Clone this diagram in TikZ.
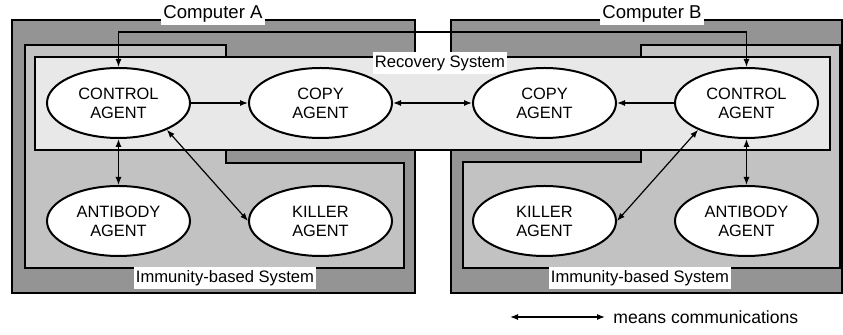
\documentclass[tikz,border=0pt]{standalone}
\usepackage{fontspec}
\setmainfont{Liberation Sans}
\usetikzlibrary{shapes.geometric,arrows.meta,positioning}

\definecolor{compgray}{gray}{0.58}
\definecolor{immgray}{gray}{0.76}
\definecolor{recgray}{gray}{0.91}

\tikzstyle{agent} = [draw, ellipse, line width=1pt, fill=white, minimum width=71.5pt, minimum height=35pt, inner sep=0pt, align=center, font=\fontsize{8.2}{9.5}\selectfont]
\tikzstyle{boxlabel} = [fill=white, inner xsep=1pt, inner ysep=1.5pt, font=\fontsize{8.3}{10}\selectfont]
\tikzstyle{compbox} = [draw, line width=0.8pt, fill=compgray]
\tikzstyle{immbox} = [draw, line width=0.8pt, fill=immgray]
\tikzstyle{recbox} = [draw, line width=0.8pt, fill=recgray]
\tikzstyle{link} = [{Latex[length=4pt,width=3pt]}-{Latex[length=4pt,width=3pt]}, line width=0.6pt]
\tikzstyle{oneway} = [-{Latex[length=4pt,width=3pt]}, line width=0.6pt]

\begin{document}
\begin{tikzpicture}[x=0.5pt, y=-0.5pt]
    \useasboundingbox (0,0) rectangle (843,335);

    % computers and systems
    \draw [compbox] (12,20) rectangle (415,293);
    \draw [compbox] (451,20) rectangle (842,293);
    \draw [immbox] (25,45) -- (226,45) -- (226,163) -- (404,163) -- (404,268) -- (25,268) -- cycle;
    \draw [immbox] (840,45) -- (641,45) -- (641,162) -- (463,162) -- (463,268) -- (840,268) -- cycle;
    \draw [recbox] (35,57) rectangle (830,150);

    \node [boxlabel, font=\fontsize{9.3}{11}\selectfont] (compA) at (213,14) {Computer A};
    \node [boxlabel, font=\fontsize{9.3}{11}\selectfont] (compB) at (652,14) {Computer B};
    \node [boxlabel] (recsys) at (440,63) {Recovery System};
    \node [boxlabel] (immA) at (225,278) {Immunity-based System};
    \node [boxlabel] (immB) at (640,278) {Immunity-based System};

    % agents
    \node [agent] (ctrlA) at (118.5,103) {CONTROL\\AGENT};
    \node [agent, right of=ctrlA, node distance=101pt] (copyA) {COPY\\AGENT};
    \node [agent, right of=copyA, node distance=112pt] (copyB) {COPY\\AGENT};
    \node [agent, right of=copyB, node distance=101pt] (ctrlB) {CONTROL\\AGENT};
    \node [agent, below of=ctrlA, node distance=59pt] (antiA) {ANTIBODY\\AGENT};
    \node [agent, below of=copyA, node distance=59pt] (killA) {KILLER\\AGENT};
    \node [agent, below of=copyB, node distance=59pt] (killB) {KILLER\\AGENT};
    \node [agent, below of=ctrlB, node distance=59pt] (antiB) {ANTIBODY\\AGENT};
    \coordinate (hub) at (433,32);

    \draw [oneway] (ctrlA) -- (copyA);
    \draw [link] (copyA) -- (copyB);
    \draw [oneway] (ctrlB) -- (copyB);
    \draw [link] (ctrlA) -- (antiA);
    \draw [link] (ctrlB) -- (antiB);
    \draw [link] (ctrlA.-29) -- (killA.west);
    \draw [link] (ctrlB.-151) -- (killB.east);
    \draw [link] (ctrlA.north) |- (hub) -| (ctrlB.north);

    % legend
    \node [anchor=west, inner sep=1pt, font=\fontsize{8.8}{10}\selectfont] (means) at (611,317) {means communications};
    \coordinate (legend) at (510,317);
    \draw [link, shorten >=3pt] (legend) -- (means.west);
\end{tikzpicture}
\end{document}
